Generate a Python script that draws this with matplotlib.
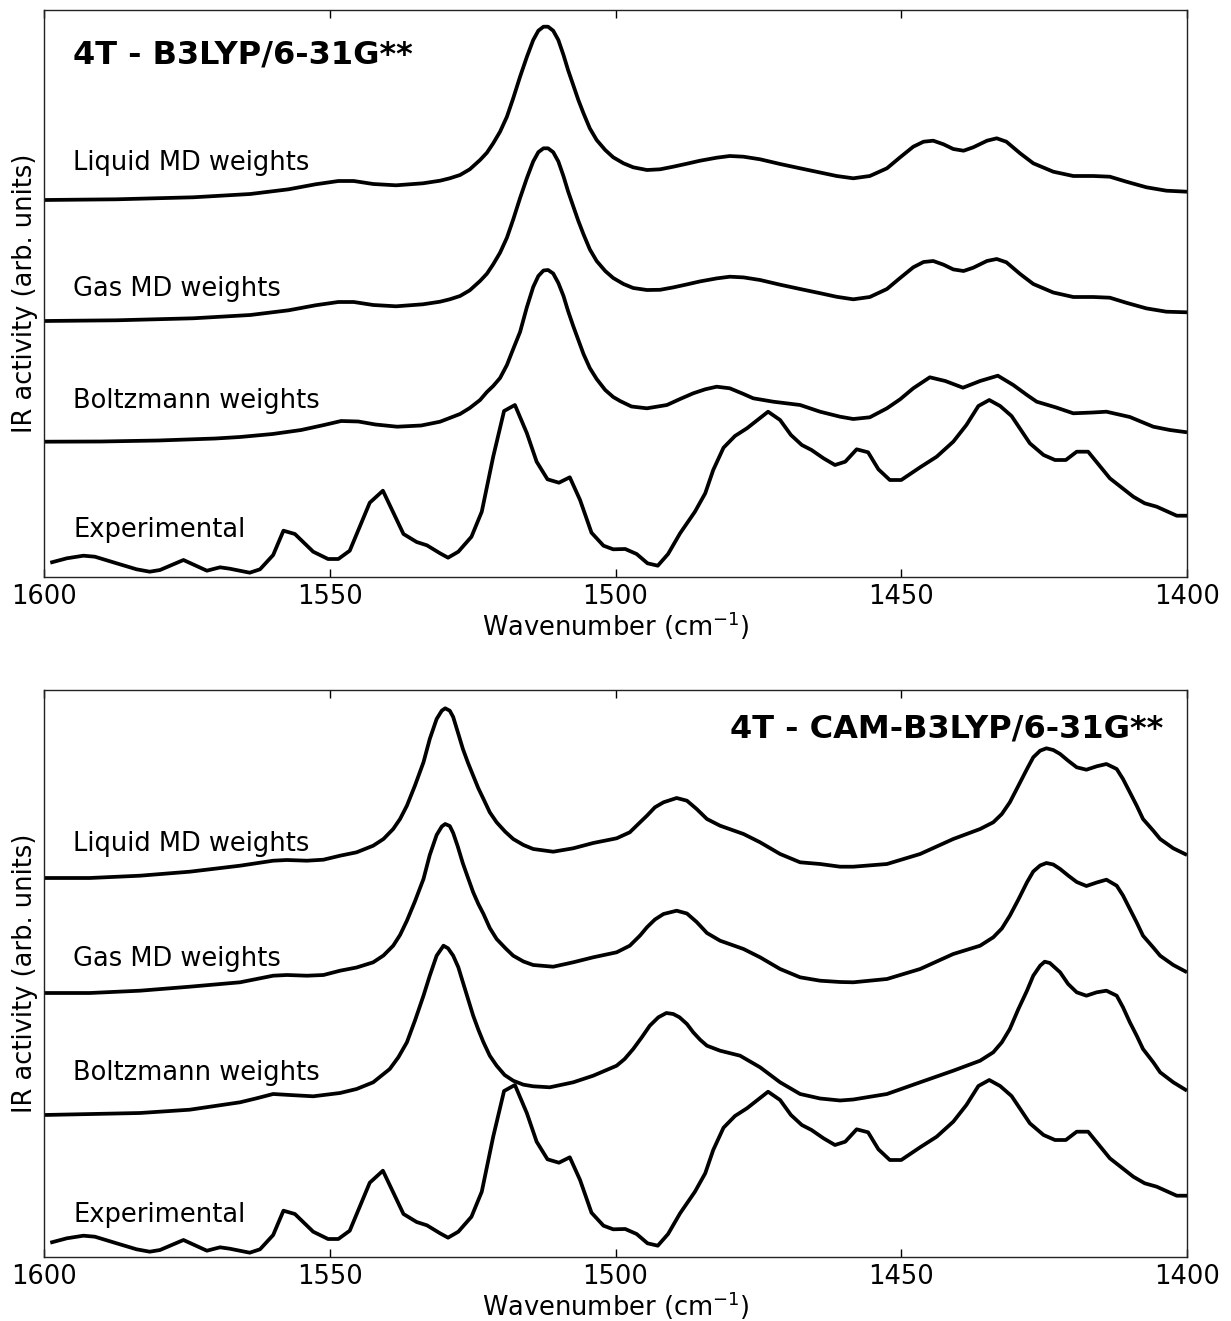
import matplotlib
matplotlib.use("Agg")
import matplotlib.pyplot as plt
import numpy as np

# ---------------- data ----------------
# Experimental spectrum (same in both panels)
exp_wn = [1598.9, 1596.0, 1593.1, 1591.1, 1587.3, 1583.8, 1581.5, 1579.7, 1575.6, 1571.5,
          1569.2, 1567.5, 1564.0, 1562.2, 1559.9, 1558.1, 1556.1, 1552.9, 1550.3, 1548.5,
          1546.5, 1543.0, 1540.7, 1537.1, 1534.8, 1533.0, 1530.7, 1529.3, 1527.5, 1525.2,
          1523.4, 1521.4, 1519.5, 1517.6, 1515.5, 1513.8, 1511.9, 1509.9, 1508.0, 1506.2,
          1504.2, 1502.1, 1500.4, 1498.3, 1496.3, 1494.4, 1492.6, 1490.8, 1488.7, 1486.1,
          1484.3, 1482.9, 1481.1, 1479.1, 1477.0, 1473.3, 1471.2, 1469.3, 1467.4, 1465.7,
          1463.6, 1461.6, 1459.8, 1457.8, 1455.8, 1454.0, 1452.0, 1450.0, 1446.7, 1443.8,
          1440.9, 1438.6, 1436.5, 1434.6, 1432.7, 1430.7, 1427.5, 1425.1, 1423.1, 1421.2,
          1419.3, 1417.3, 1413.5, 1409.4, 1407.4, 1405.3, 1401.8, 1400.0]
exp_int = [14.3, 18.7, 21.3, 20.3, 13.7, 7.7, 5.3, 7, 17, 6.3,
           9.7, 8.3, 4.3, 7.7, 22, 46.3, 43, 25.3, 18, 18,
           26.3, 74.3, 86.3, 43, 35, 31.7, 23.7, 19.3, 25.3, 40.3,
           65.3, 120.3, 166, 172, 143.7, 115.3, 97.7, 94.3, 99.7, 77,
           44.3, 31.3, 27.7, 28, 23, 13.7, 11.3, 23, 43.7, 65.3,
           83.7, 107, 129.3, 141, 148.7, 165.3, 157, 142, 132, 127,
           118.7, 112, 115.3, 127.7, 124.7, 107.7, 97, 97, 109.7, 120.3,
           135.3, 152, 171, 177, 171, 161, 133.7, 122, 117, 117,
           125.3, 125.3, 98.7, 80.3, 73.7, 70.3, 61.3, 61.3]

# ---- B3LYP panel ----
b3_md_wn = [1600, 1587.3, 1573.9, 1563.9, 1557.2, 1552.5, 1548.5, 1545.8, 1542.4, 1538.4,
            1533.7, 1530.7, 1529.0, 1527.2, 1525.5, 1523.7, 1522.5, 1521.4, 1520.2, 1519.0,
            1517.9, 1516.7, 1515.5, 1514.4, 1513.5, 1512.6, 1511.8, 1510.9, 1510.0, 1509.1,
            1508.3, 1507.4, 1506.5, 1505.6, 1504.5, 1503.3, 1501.8, 1500.4, 1498.6, 1496.9,
            1494.5, 1492.2, 1489.9, 1487.5, 1485.2, 1482.3, 1480.0, 1477.6, 1474.7, 1471.2,
            1467.7, 1464.2, 1461.3, 1458.4, 1455.5, 1452.5, 1450.2, 1447.9, 1446.1, 1444.4,
            1442.6, 1440.9, 1439.1, 1437.4, 1435.0, 1433.3, 1431.6, 1429.2, 1426.9, 1423.4,
            1419.9, 1416.4, 1413.5, 1410.6, 1407.1, 1403.6, 1400]
b3_liquid = [0, 0.7, 2.7, 6, 10.7, 15.7, 19, 19, 16, 14.7,
             16.7, 19.3, 21.7, 25, 30.7, 40, 47.3, 56.7, 68.3, 83.3,
             101.7, 123.3, 143.3, 160, 169.3, 173.3, 173.3, 169.3, 160, 145,
             130, 115, 100, 86.7, 71.7, 60, 50, 42.7, 36.7, 32.7,
             30, 30.7, 33.3, 36.3, 39.3, 42.3, 44, 43.3, 40.7, 36,
             31.7, 27.5, 24, 21.7, 24, 31.7, 42.7, 53.3, 58.3, 59.3,
             55.7, 51, 49.3, 52.7, 59.3, 61.7, 58.3, 46.7, 36.7, 28.3,
             24, 24, 23.3, 18.3, 12.7, 9.3, 8.3]
b3_gas = [0, 0.7, 2.7, 6, 10.7, 15.7, 19, 19, 16, 14.7,
          16.7, 19.3, 21.7, 25, 30.7, 40, 47.3, 56.7, 68.3, 83.3,
          101.5, 123, 143, 159.5, 168.8, 172.7, 172.7, 168.8, 159.5, 144.7,
          129.7, 114.8, 100, 86.7, 71.7, 60, 50, 43, 37, 33,
          31, 31.2, 33.6, 36.6, 39.6, 42.6, 44.3, 43.6, 41, 36.3,
          32, 27.8, 24.2, 21.7, 24, 32, 43, 53.7, 59, 60,
          56.3, 51.6, 50, 53.3, 60, 62, 58.7, 47, 37, 28.5,
          24, 24, 23.3, 18.2, 12.6, 9.3, 8.7]
b3_boltz_wn = [1600, 1590, 1580, 1570, 1565.7, 1560, 1555, 1551, 1548, 1545,
               1542, 1538.2, 1534, 1530.7, 1527.2, 1525.5, 1523.7, 1522.5, 1521.4, 1520.2,
               1519.0, 1517.9, 1516.7, 1515.5, 1514.4, 1513.5, 1512.6, 1511.8, 1510.9, 1510.0,
               1509.1, 1508.3, 1507.4, 1506.5, 1505.6, 1504.5, 1503.3, 1501.8, 1500.4, 1499.2,
               1497.2, 1494.5, 1491.0, 1488.7, 1486.4, 1484.3, 1482.3, 1480.0, 1477.6, 1475.9,
               1472.4, 1467.7, 1464.2, 1460.7, 1458.4, 1455.5, 1452.5, 1450.2, 1447.9, 1445.0,
               1442.3, 1439.2, 1436.2, 1433.1, 1430.4, 1428.0, 1426.3, 1423.0, 1419.9, 1416.5,
               1414.1, 1410.0, 1405.9, 1403.0, 1400]
b3_boltz = [0.3, 0.5, 1.5, 3.5, 5, 8, 12, 17, 21, 20.5,
            17.5, 15.3, 16.5, 20.3, 28, 34, 42, 50, 56, 64,
            77, 93, 110, 135, 155, 166, 171.5, 172, 168.5, 159,
            146, 131, 116, 102, 88, 74, 63, 52, 45, 41,
            35.5, 33.7, 37, 43, 48.7, 52.7, 55.3, 53.7, 48, 43.7,
            40.3, 37, 30.3, 25.3, 23, 24.7, 33.7, 42.7, 53.7, 64.7,
            61, 54.3, 61, 66.3, 57, 47, 40.3, 34.7, 28.7, 29.5,
            30.3, 25, 15.3, 12, 9.7]

# ---- CAM-B3LYP panel ----
cam_md_wn = [1600, 1592.0, 1583.2, 1574.5, 1565.7, 1559.9, 1557.5, 1554.0, 1551.1, 1548.2,
             1545.3, 1542.4, 1540.6, 1538.9, 1537.7, 1536.5, 1535.1, 1533.6, 1532.5, 1531.3,
             1530.4, 1529.8, 1529.0, 1528.4, 1527.6, 1526.7, 1525.8, 1524.9, 1524.0, 1523.1,
             1522.0, 1520.8, 1519.3, 1517.9, 1516.1, 1514.4, 1510.9, 1507.4, 1503.9, 1499.8,
             1497.5, 1495.7, 1494.5, 1493.1, 1491.6, 1489.3, 1487.5, 1485.8, 1484.0, 1481.7,
             1477.6, 1474.7, 1471.2, 1467.7, 1464.2, 1460.7, 1458.4, 1452.5, 1446.7, 1440.9,
             1436.2, 1433.9, 1432.4, 1431.0, 1429.5, 1428.0, 1426.9, 1425.7, 1424.6, 1423.4,
             1422.2, 1420.8, 1419.3, 1417.6, 1415.8, 1414.1, 1412.3, 1411.2, 1410.0, 1408.8,
             1407.7, 1405.9, 1404.7, 1402.4, 1400]
cam_liquid = [0, 0, 2.3, 6.3, 12.3, 17.3, 18, 17.3, 18.3, 22.3,
              25.7, 32.3, 39, 49, 59, 72.3, 92.3, 115.7, 139, 159,
              167.3, 169.7, 167.3, 161, 146, 129, 115, 102.3, 89.7, 79,
              65.7, 55.7, 46.3, 39, 33, 29, 26.3, 29.7, 35, 39.7,
              45.7, 55.7, 62.3, 70.7, 75.7, 80, 77.3, 69, 59, 52.3,
              44, 35.7, 24, 15.7, 14, 11.3, 11.3, 14, 24, 39,
              49, 55.7, 64, 75.7, 92.3, 109, 120.7, 127.3, 129.7, 128,
              124, 117.3, 110.7, 108.3, 111.7, 114, 109, 99, 85.7, 72.3,
              59, 47.3, 39, 29.7, 23]
cam_gas = [0, 0, 2.3, 6.3, 10.7, 17.3, 18, 17.3, 18, 22.3,
           25.5, 30.7, 37.5, 47.3, 58, 72.3, 91.5, 114, 138, 158,
           166.5, 169, 167, 160, 146.5, 129.5, 115, 100.7, 89, 79,
           65, 54, 45, 37.3, 31.5, 28, 26.3, 30.7, 35.7, 40.7,
           47.3, 57.5, 65.7, 73.5, 79, 82.3, 79.5, 71, 60, 52.3,
           44, 35.7, 24, 15.7, 12.3, 11, 10.7, 14, 24, 39,
           47.3, 55.7, 64.5, 77.3, 93.5, 110.7, 121.5, 127.5, 130, 128.5,
           124, 117.5, 111, 107, 110.5, 113.3, 107.3, 97.5, 84, 70.5,
           57.3, 45.5, 37.3, 28, 20.7]
cam_boltz_wn = [1600, 1583.2, 1574.5, 1565.7, 1562.8, 1559.9, 1557.0, 1552.9, 1548.2, 1545.3,
                1542.4, 1539.5, 1538.0, 1536.5, 1535.1, 1533.6, 1532.5, 1531.3, 1530.1, 1529.3,
                1528.4, 1527.5, 1526.7, 1525.8, 1524.9, 1524.0, 1523.1, 1522.0, 1520.8, 1519.4,
                1517.9, 1516.1, 1514.4, 1511.5, 1507.4, 1503.9, 1499.8, 1498.4, 1496.9, 1495.4,
                1494.0, 1492.5, 1491.1, 1489.9, 1488.8, 1487.5, 1486.4, 1485.2, 1484.0, 1481.7,
                1478.2, 1474.7, 1471.2, 1467.7, 1464.2, 1460.7, 1458.4, 1452.5, 1446.7, 1440.9,
                1436.2, 1433.9, 1432.4, 1431.0, 1429.5, 1428.0, 1426.9, 1425.7, 1424.9, 1424.0,
                1422.2, 1420.8, 1419.3, 1417.6, 1415.8, 1414.1, 1412.3, 1411.2, 1410.0, 1408.8,
                1407.7, 1405.9, 1404.7, 1402.4, 1400]
cam_boltz = [0, 2, 5.3, 12.7, 16.7, 21, 20, 18.7, 22, 26,
             32.7, 46, 57.7, 72.7, 94.3, 119.3, 139.3, 159.3, 169.3, 166.7,
             159.3, 147.7, 132.7, 116, 99.3, 85.3, 72.7, 59.3, 49.3, 40,
             34.3, 30.3, 28.7, 27.7, 32.7, 39.3, 49.3, 56, 66, 77.7,
             89.3, 97.7, 102, 101, 97.7, 91, 82.7, 75.3, 69.3, 64.3,
             59.3, 47.7, 32.7, 21, 16.5, 14.5, 15.5, 21, 32.7, 44.3,
             54.3, 62.7, 72.7, 86, 106, 124.3, 139.3, 149.3, 153.3, 152,
             142.7, 131, 122.7, 119.3, 122.7, 124.3, 119.3, 107.7, 92.7, 79.3,
             66, 52.7, 42.7, 32.7, 24.3]

labels = ["Liquid MD weights", "Gas MD weights", "Boltzmann weights", "Experimental"]
titles = ["4T - B3LYP/6-31G**", "4T - CAM-B3LYP/6-31G**"]
xticks = [1600, 1550, 1500, 1450, 1400]

# ---------------- figure ----------------
W, H = 1231, 1321
fig = plt.figure(figsize=(W / 100, H / 100), dpi=100)
left, width = 44 / W, 1143 / W
ax_h = 567 / H
axes = [fig.add_axes([left, 1 - 577 / H, width, ax_h]),
        fig.add_axes([left, 1 - 1257 / H, width, ax_h])]

panels = [
    dict(curves=[(b3_md_wn, b3_liquid), (b3_md_wn, b3_gas), (b3_boltz_wn, b3_boltz), (exp_wn, exp_int)],
         offsets=[377, 256, 135, 0],
         label_y=[0.7178, 0.4956, 0.2975, 0.070],
         title_xy=(0.0254, 0.906), title_ha="left"),
    dict(curves=[(cam_md_wn, cam_liquid), (cam_md_wn, cam_gas), (cam_boltz_wn, cam_boltz), (exp_wn, exp_int)],
         offsets=[379, 264, 142, 0],
         label_y=[0.7166, 0.5138, 0.3127, 0.0612],
         title_xy=(0.979, 0.9166), title_ha="right"),
]

FS = 18.5
for ax, p, title in zip(axes, panels, titles):
    for (wn, inten), off in zip(p["curves"], p["offsets"]):
        ax.plot(wn, np.asarray(inten) + off, color="black", lw=2.7,
                solid_joinstyle="round", solid_capstyle="butt")
    for lab, ly in zip(labels, p["label_y"]):
        ax.text(0.0254, ly, lab, transform=ax.transAxes, fontsize=FS,
                ha="left", va="baseline")
    ax.text(p["title_xy"][0], p["title_xy"][1], title, transform=ax.transAxes,
            fontsize=23, fontweight="bold", ha=p["title_ha"], va="baseline")
    ax.set_xlim(1600, 1400)
    ax.set_ylim(0, 567)
    ax.set_xticks(xticks)
    ax.set_xticklabels([str(t) for t in xticks], fontsize=FS)
    ax.set_yticks([])
    ax.tick_params(axis="x", direction="in", top=True, bottom=True, length=6,
                   width=1, pad=5)
    ax.set_xlabel("Wavenumber (cm$^{-1}$)", fontsize=FS, labelpad=0)
    ax.set_ylabel("IR activity (arb. units)", fontsize=FS, labelpad=4)
    for s in ax.spines.values():
        s.set_linewidth(1.0)
        s.set_color("#222222")

fig.savefig("out.png", dpi=100)
